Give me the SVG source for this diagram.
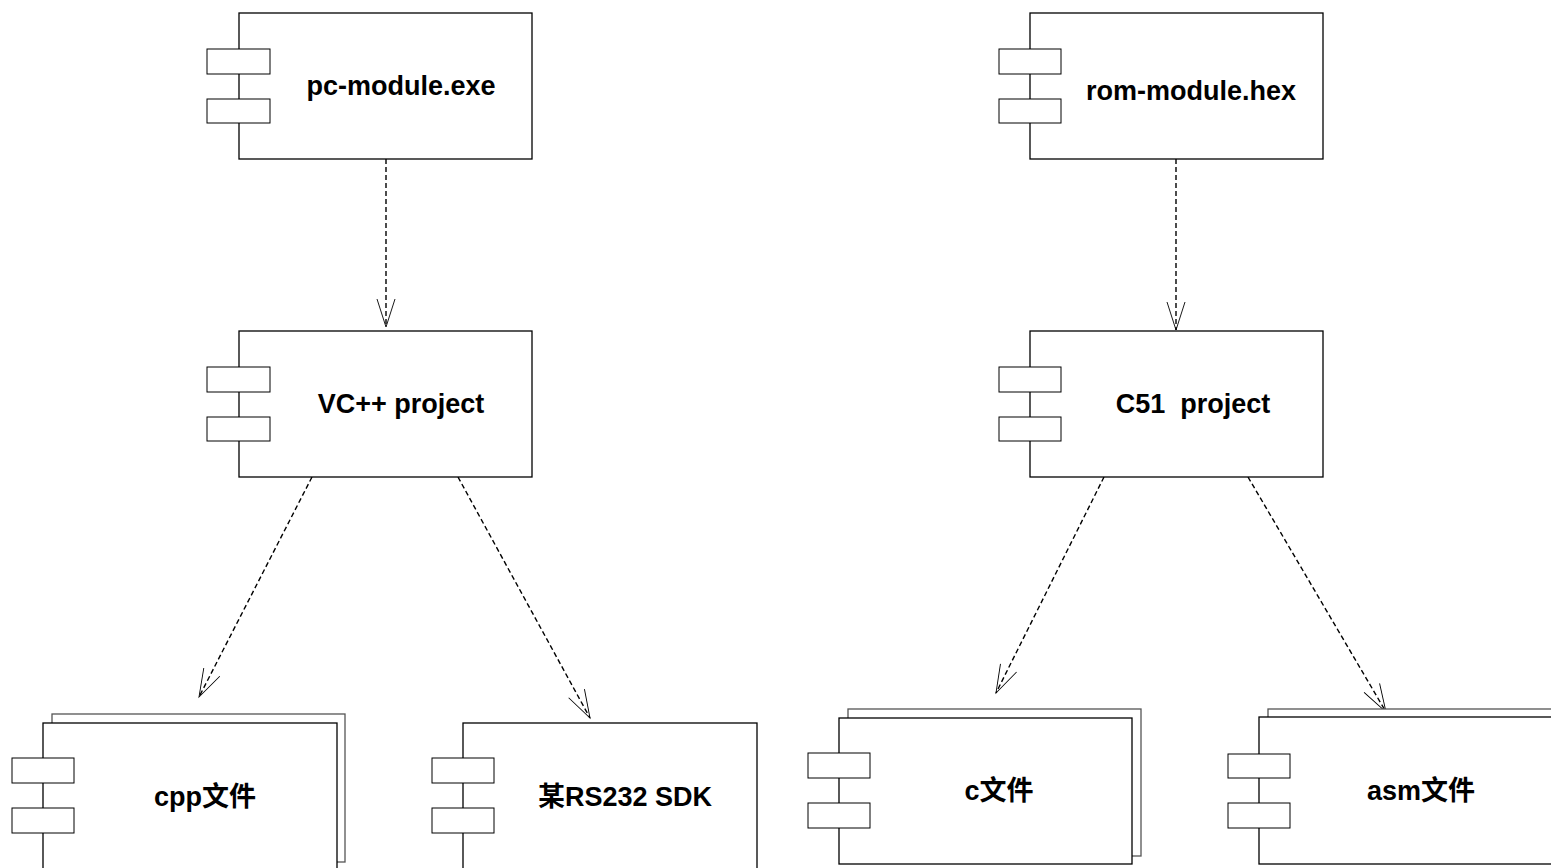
<svg xmlns="http://www.w3.org/2000/svg" width="1551" height="868" viewBox="0 0 1551 868">
<style>
.body{fill:#fff;stroke:#000;stroke-width:1.3}
.back{fill:#fff;stroke:#555;stroke-width:1.3}
.port{fill:#fff;stroke:#000;stroke-width:1}
.lbl{font-family:"Liberation Sans",Arial,"Noto Sans CJK SC",sans-serif;font-weight:bold;font-size:27px;fill:#000;text-anchor:middle}
.dep{fill:none;stroke:#000;stroke-width:1.4;stroke-dasharray:5 3}
</style>
<defs>
<marker id="open" markerUnits="userSpaceOnUse" viewBox="-30 -12 32 24" markerWidth="32" markerHeight="24" refX="0" refY="0" orient="auto" overflow="visible">
<path d="M-28,-9 L0,0 L-28,9" fill="none" stroke="#000" stroke-width="0.9"/>
</marker>
</defs>
<rect width="1551" height="868" fill="#fff"/>
<g id="connectors">
<line class="dep" x1="386" y1="159" x2="386" y2="327" marker-end="url(#open)"/>
<line class="dep" x1="1176" y1="159" x2="1176" y2="330" marker-end="url(#open)"/>
<line class="dep" x1="312" y1="477" x2="199" y2="697" marker-end="url(#open)"/>
<line class="dep" x1="458" y1="477" x2="590" y2="718" marker-end="url(#open)"/>
<line class="dep" x1="1104" y1="477" x2="996" y2="693" marker-end="url(#open)"/>
<line class="dep" x1="1248" y1="477" x2="1386" y2="712" marker-end="url(#open)"/>
</g>
<g id="pc-module">
<rect class="body" x="239" y="13" width="293" height="146"/>
<rect class="port" x="207" y="49" width="63" height="25"/>
<rect class="port" x="207" y="99" width="63" height="24"/>
<text class="lbl" x="401" y="95">pc-module.exe</text>
</g>
<g id="rom-module">
<rect class="body" x="1030" y="13" width="293" height="146"/>
<rect class="port" x="999" y="49" width="62" height="25"/>
<rect class="port" x="999" y="99" width="62" height="24"/>
<text class="lbl" x="1191" y="100">rom-module.hex</text>
</g>
<g id="vc-project">
<rect class="body" x="239" y="331" width="293" height="146"/>
<rect class="port" x="207" y="367" width="63" height="25"/>
<rect class="port" x="207" y="417" width="63" height="24"/>
<text class="lbl" x="401" y="413">VC++ project</text>
</g>
<g id="c51-project">
<rect class="body" x="1030" y="331" width="293" height="146"/>
<rect class="port" x="999" y="367" width="62" height="25"/>
<rect class="port" x="999" y="417" width="62" height="24"/>
<text class="lbl" x="1193" y="413" xml:space="preserve">C51  project</text>
</g>
<g id="cpp-files">
<rect class="back" x="52" y="714" width="293" height="148"/>
<rect class="body" x="43" y="723" width="294" height="150"/>
<rect class="port" x="12" y="758" width="62" height="25"/>
<rect class="port" x="12" y="808" width="62" height="25"/>
<text class="lbl" x="205" y="806">cpp文件</text>
</g>
<g id="rs232-sdk">
<rect class="body" x="463" y="723" width="294" height="150"/>
<rect class="port" x="432" y="758" width="62" height="25"/>
<rect class="port" x="432" y="808" width="62" height="25"/>
<text class="lbl" x="625" y="806">某RS232 SDK</text>
</g>
<g id="c-files">
<rect class="back" x="848" y="709" width="293" height="147"/>
<rect class="body" x="839" y="718" width="293" height="146"/>
<rect class="port" x="808" y="753" width="62" height="25"/>
<rect class="port" x="808" y="803" width="62" height="25"/>
<text class="lbl" x="999" y="800">c文件</text>
</g>
<g id="asm-files">
<rect class="back" x="1268" y="709" width="293" height="147"/>
<rect class="body" x="1259" y="717" width="293" height="147"/>
<rect class="port" x="1228" y="754" width="62" height="24"/>
<rect class="port" x="1228" y="803" width="62" height="25"/>
<text class="lbl" x="1421" y="800">asm文件</text>
</g>
</svg>
